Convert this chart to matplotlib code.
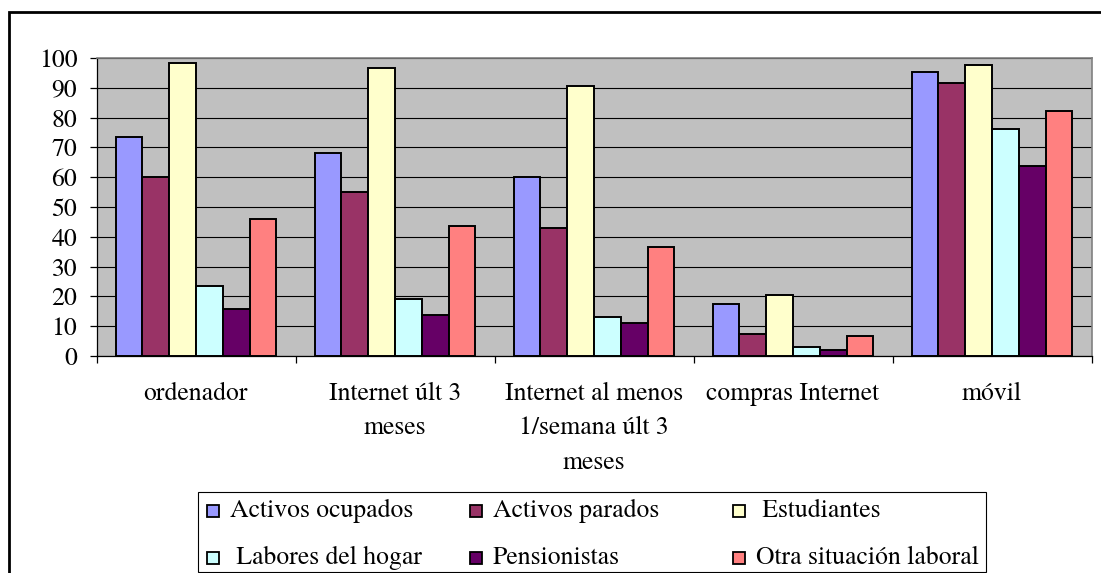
import matplotlib
matplotlib.use("Agg")
import matplotlib.pyplot as plt
from matplotlib.patches import Rectangle
from matplotlib import font_manager as fm
import numpy as np

categories = ["ordenador", "Internet últ 3\nmeses", "Internet al menos\n1/semana últ 3\nmeses",
              "compras Internet", "móvil"]
series_names = ["Activos ocupados", "Activos parados", " Estudiantes",
                " Labores del hogar", "Pensionistas", "Otra situación laboral"]
activos_ocupados = [73.6, 68.2, 60.0, 17.4, 95.3]
activos_parados = [60.0, 55.1, 42.8, 7.4, 91.5]
estudiantes = [98.4, 96.7, 90.7, 20.5, 97.7]
labores_hogar = [23.6, 19.0, 13.0, 2.9, 76.1]
pensionistas = [15.9, 13.6, 11.2, 1.9, 63.8]
otra_situacion = [46.0, 43.7, 36.7, 6.7, 82.2]
yticks = list(range(0, 101, 10))

series = [activos_ocupados, activos_parados, estudiantes, labores_hogar, pensionistas, otra_situacion]
colors = ["#9999FF", "#993366", "#FFFFCC", "#CCFFFF", "#660066", "#FF8080"]

W, H = 1101, 573
# pick a Times-like serif font that is actually installed (by file path)
serif_file = None
for pref in ["texgyretermes-regular", "LiberationSerif-Regular", "Tinos-Regular", "DejaVuSerif."]:
    for f in fm.fontManager.ttflist:
        if pref.lower() in f.fname.lower():
            serif_file = f.fname
            break
    if serif_file:
        break
if serif_file:
    FONT = fm.FontProperties(fname=serif_file).get_name()
else:
    FONT = "DejaVu Serif"
FS = 18.5
plt.rcParams['font.family'] = [FONT, 'DejaVu Serif']

fig = plt.figure(figsize=(W / 100, H / 100), dpi=100)
fig.patch.set_facecolor("white")

def fx(x):
    return x / W

def fy(y):
    return 1 - y / H

# plot area
left, right, top, bottom = 96.5, 1091.5, 58, 356
ax = fig.add_axes([fx(left), fy(bottom), fx(right - left), fy(top) - fy(bottom)])
ax.set_facecolor("#C0C0C0")

n = len(categories)
x = np.arange(n)
w = 0.1347
for j, (vals, c) in enumerate(zip(series, colors)):
    ax.bar(x + (j - 2.5) * w, vals, width=w, color=c, edgecolor="black", linewidth=1.4, zorder=3)

ax.set_xlim(-0.5, n - 0.5)
ax.set_ylim(0, 100)
ax.set_yticks(yticks)
ax.set_yticklabels([str(v) for v in yticks], fontsize=FS, family=FONT)
ax.yaxis.grid(True, color="black", linewidth=0.8, zorder=1)
ax.set_axisbelow(True)

# boundary ticks (major) without labels, category labels (minor) at centers
ax.set_xticks(np.arange(n + 1) - 0.5)
ax.set_xticklabels([])
ax.set_xticks(x, minor=True)
ax.set_xticklabels(categories, minor=True, fontsize=FS, family=FONT, linespacing=1.55)
ax.tick_params(axis="x", which="major", direction="out", length=5.2, width=0.9, color="black")
ax.tick_params(axis="x", which="minor", length=0, pad=19)
ax.tick_params(axis="y", which="major", direction="out", length=5.2, width=0.9, color="black", pad=8.6)

for s in ["top", "right"]:
    ax.spines[s].set_color("#808080")
    ax.spines[s].set_linewidth(1.2)
for s in ["left", "bottom"]:
    ax.spines[s].set_color("black")
    ax.spines[s].set_linewidth(0.9)

# outer chart frame
fig.add_artist(Rectangle((fx(9), fy(700)), fx(1200), fy(12) - fy(700), transform=fig.transFigure,
                         fill=False, edgecolor="black", linewidth=2.0))

# legend (manual, Excel style fixed columns)
lx0, ly0, lx1, ly1 = 198, 492, 986, 572
fig.add_artist(Rectangle((fx(lx0), fy(ly1)), fx(lx1 - lx0), fy(ly0) - fy(ly1), transform=fig.transFigure,
                         fill=True, facecolor="white", edgecolor="black", linewidth=0.8))
col_x = [207, 470, 733]
row_c = [510.5, 557.5]
row_base = [517, 564]
msize = 12
for k, (name, c) in enumerate(zip(series_names, colors)):
    r, col = divmod(k, 3)
    mx = col_x[col]
    my = row_c[r]
    fig.add_artist(Rectangle((fx(mx), fy(my + msize / 2)), fx(msize), fy(my - msize / 2) - fy(my + msize / 2),
                             transform=fig.transFigure, facecolor=c, edgecolor="black", linewidth=1.3))
    fig.text(fx(mx + 23), fy(row_base[r]), name, fontsize=FS, family=FONT, va="baseline", ha="left")

fig.savefig("out.png", dpi=100, facecolor="white")
